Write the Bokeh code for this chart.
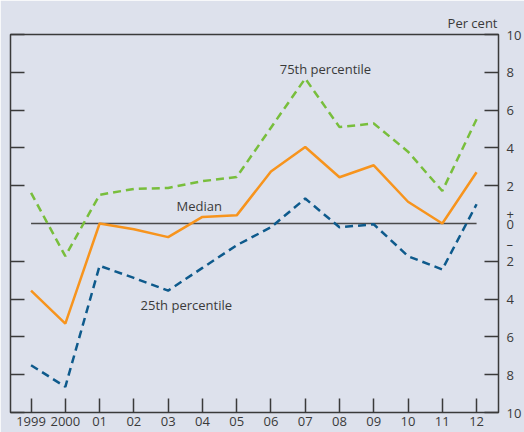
from bokeh.plotting import figure
from bokeh.models import Range1d, LinearAxis, FixedTicker, Label
from bokeh.embed import file_html
from bokeh.resources import INLINE

years = [1999, 2000, 2001, 2002, 2003, 2004, 2005, 2006, 2007, 2008, 2009, 2010, 2011, 2012]
year_labels = ["1999", "2000", "01", "02", "03", "04", "05", "06", "07", "08", "09", "10", "11", "12"]
p75 = [1.62, -1.73, 1.52, 1.83, 1.88, 2.24, 2.46, 5.07, 7.67, 5.10, 5.29, 3.80, 1.72, 5.52]
median = [-3.55, -5.30, 0.00, -0.30, -0.72, 0.35, 0.43, 2.75, 4.05, 2.45, 3.08, 1.15, 0.00, 2.71]
p25 = [-7.50, -8.64, -2.24, -2.88, -3.55, -2.35, -1.15, -0.20, 1.32, -0.20, -0.04, -1.73, -2.43, 1.02]
y_ticks = [-10, -8, -6, -4, -2, 0, 2, 4, 6, 8, 10]
sign_ticks = {0.48: "+", -1.1: "\u2013"}

BG = "#dde1ec"
INK = "#3a3a3a"
FONT = "Open Sans"
GREEN = "#78be3c"
ORANGE = "#f7941d"
BLUE = "#0e5a8c"

x0, x1 = years[0] - 0.6, years[-1] + 0.64
p = figure(width=524, height=432, x_range=Range1d(x0, x1), y_range=Range1d(-10, 10),
           output_backend="svg", toolbar_location=None,
           x_axis_location=None, y_axis_location=None,
           title="Per cent", title_location="above",
           min_border_left=10, min_border_right=25, min_border_top=34, min_border_bottom=20)
p.background_fill_color = BG
p.border_fill_color = BG
p.outline_line_color = INK
p.outline_line_width = 1.5
p.xgrid.visible = False
p.ygrid.visible = False

p.title.align = "right"
p.title.text_font = FONT
p.title.text_font_size = "13px"
p.title.text_font_style = "normal"
p.title.text_color = INK
p.title.standoff = 5
p.title.offset = 1

nonzero = [t for t in y_ticks if t != 0]

# left axis: inner ticks only
left = LinearAxis(ticker=FixedTicker(ticks=nonzero))
left.major_tick_in = 14
left.major_tick_out = 0
left.minor_tick_in = 0
left.minor_tick_out = 0
left.major_label_overrides = {t: "" for t in nonzero}
left.major_label_text_font_size = "0px"
left.major_label_standoff = 0
left.axis_line_color = None
left.major_tick_line_color = INK
left.major_tick_line_width = 1.5
p.add_layout(left, "left")

# right axis: labels at all values (plus sign markers), tick marks (minor) except at zero
right_ticks = sorted(y_ticks + list(sign_ticks))
right = LinearAxis(ticker=FixedTicker(ticks=right_ticks, minor_ticks=nonzero))
right.major_tick_in = 0
right.major_tick_out = 0
right.minor_tick_in = 14
right.minor_tick_out = 0
right.minor_tick_line_color = INK
right.minor_tick_line_width = 1.5
right.axis_line_color = None
overrides = {t: str(abs(t)) for t in y_ticks}
overrides.update(sign_ticks)
right.major_label_overrides = overrides
right.major_label_text_font = FONT
right.major_label_text_font_size = "13px"
right.major_label_text_color = INK
right.major_label_standoff = 8
right.major_label_text_align = "right"
p.add_layout(right, "right")

# bottom axis
bottom = LinearAxis(ticker=FixedTicker(ticks=years))
bottom.major_tick_in = 14
bottom.major_tick_out = 0
bottom.minor_tick_in = 0
bottom.minor_tick_out = 0
bottom.major_tick_line_color = INK
bottom.major_tick_line_width = 1.5
bottom.axis_line_color = None
bottom.major_label_overrides = {y: l for y, l in zip(years, year_labels)}
bottom.major_label_text_font = FONT
bottom.major_label_text_font_size = "13px"
bottom.major_label_text_color = INK
bottom.major_label_standoff = 4
p.add_layout(bottom, "below")

# zero line
p.line(x=[years[0], years[-1]], y=[0, 0], line_color="#4a4a4a", line_width=1.5)

p.line(years, p75, line_color=GREEN, line_width=2.5, line_dash="8 5")
p.line(years, p25, line_color=BLUE, line_width=2.5, line_dash="8 5")
p.line(years, median, line_color=ORANGE, line_width=2.5)

def lab(x, y, text, **kw):
    opts = dict(text_font=FONT, text_font_size="13px", text_color=INK,
                text_align="center", text_baseline="middle")
    opts.update(kw)
    p.add_layout(Label(x=x, y=y, text=text, **opts))

lab(2007.59, 8.16, "75th percentile")
lab(2003.91, 0.94, "Median")
lab(2003.53, -4.32, "25th percentile")

open("out.html", "w").write(file_html(p, INLINE))
